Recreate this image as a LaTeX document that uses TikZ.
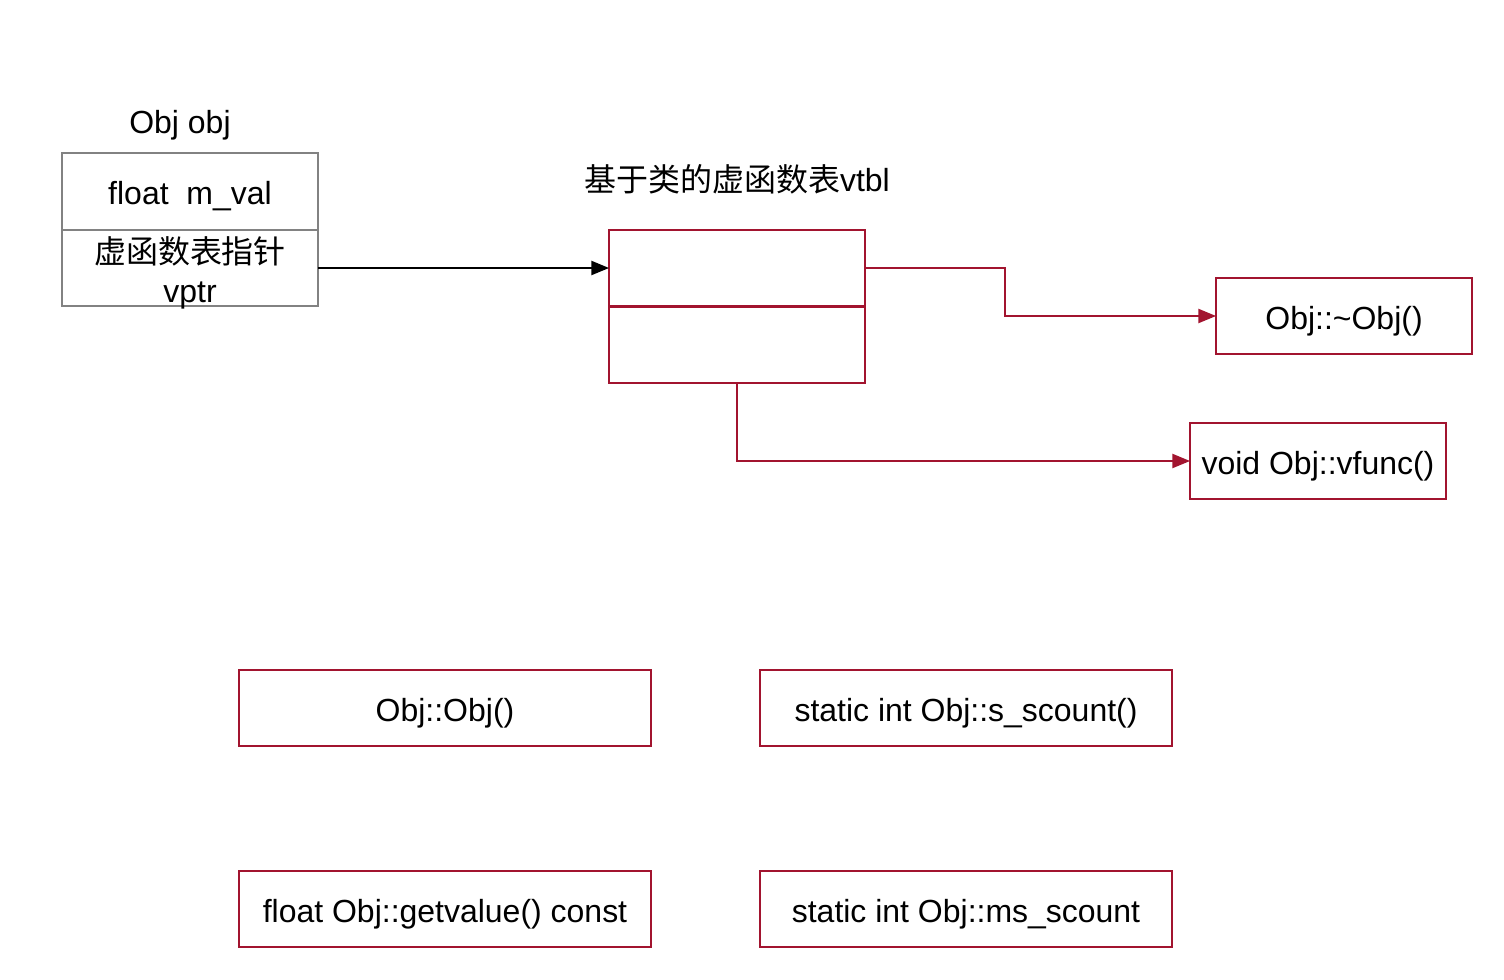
\documentclass[tikz,border=0pt]{standalone}
\usepackage{fontspec}
\setmainfont{Liberation Sans}
\newfontfamily\cjk{Noto Sans CJK SC}
\usetikzlibrary{arrows.meta}
\definecolor{vtred}{RGB}{162,20,47}
\definecolor{boxgray}{RGB}{130,130,130}

\begin{document}
\begin{tikzpicture}[
  x=0.02cm, y=-0.02cm,
  cell/.style={rectangle, draw=boxgray, line width=0.9pt, minimum width=5.12cm, minimum height=1.53cm, inner sep=0pt, outer sep=0pt, align=center, font=\fontsize{18.2}{20.5}\selectfont},
  oneline/.style={text height=16.8pt, text depth=1.6pt},
  vcell/.style={cell, oneline, draw=vtred, line width=1.1pt},
  fbox/.style={vcell, minimum width=8.24cm},
  title/.style={font=\fontsize{18.2}{22}\selectfont, align=center},
  arrow/.style={-{Triangle[length=10pt,width=8pt]}, line width=1pt}
]
\useasboundingbox (0,0) rectangle (1504,980);

% object layout
\node[title] (objname) at (180,125) {Obj obj};
\node[cell, oneline] (mval) at (190,191.5) {float\ \ m\_val};
\node[cell] (vptr) at (190,268) {};
\node[title] (vptrtext) at (190,273) {{\cjk 虚函数表指针}\\vptr};

% virtual table
\node[title] (vtname) at (737,179) {{\cjk 基于类的虚函数表}vtbl};
\node[vcell] (slot1) at (737,268) {};
\node[vcell] (slot2) at (737,345) {};

% virtual functions
\node[vcell] (dtor) at (1344,316) {Obj::\textasciitilde Obj()};
\node[vcell] (vfunc) at (1318,461) {void Obj::vfunc()};

% other members
\node[fbox] (ctor) at (445,708) {Obj::Obj()};
\node[fbox] (scount) at (966,708) {static int Obj::s\_scount()};
\node[fbox] (getval) at (445,909) {float Obj::getvalue() const};
\node[fbox] (mscount) at (966,909) {static int Obj::ms\_scount};

\draw[arrow] (vptr.east |- slot1.west) -- (slot1.west);
\draw[arrow, vtred] (slot1.east) -- ++(140,0) |- (dtor.west);
\draw[arrow, vtred] (slot2.south) |- (vfunc.west);
\end{tikzpicture}
\end{document}
